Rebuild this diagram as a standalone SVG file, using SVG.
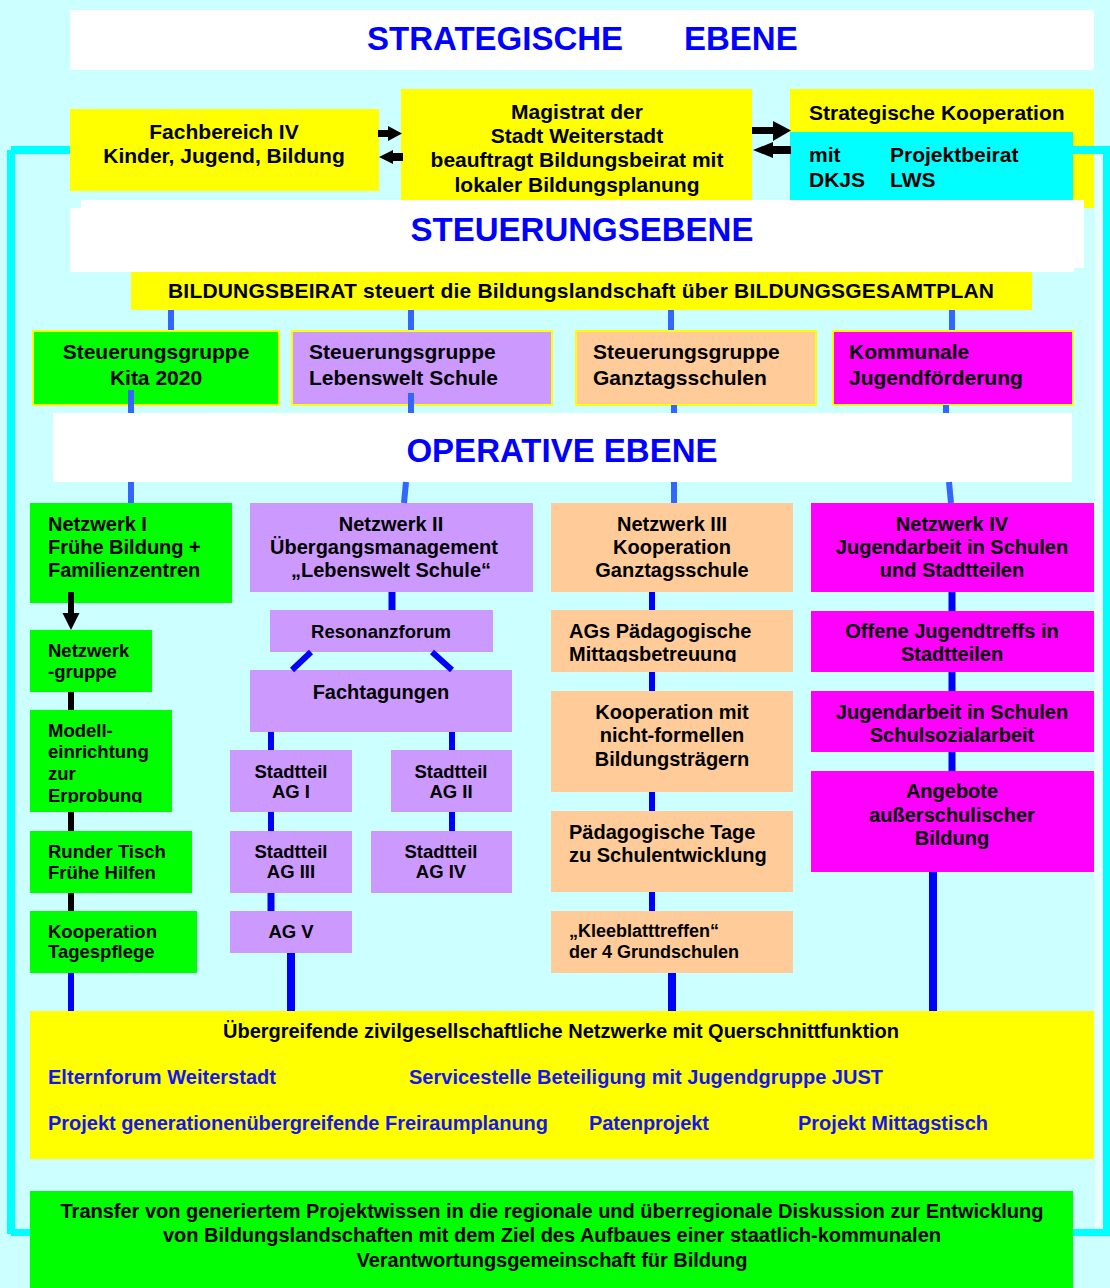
<svg xmlns="http://www.w3.org/2000/svg" width="1110" height="1288" viewBox="0 0 1110 1288">
<style>
text{font-family:"Liberation Sans",Arial,Helvetica,sans-serif;font-weight:bold;fill:#000}
.h{font-size:33px;fill:#0000FF}
.s21{font-size:21px}
.s20{font-size:20px}
.s185{font-size:18.5px}
.s18{font-size:18px}
.c{text-anchor:middle}
.bl{fill:#1414F0}
.y{fill:#FFFF00}
.g{fill:#00FF00}
.p{fill:#CC99FF}
.o{fill:#FFCC99}
.m{fill:#FF00FF}
.w{fill:#FFFFFF}
.sb{stroke:#FFFF00;stroke-width:2}
.cu{stroke:#3366FF;stroke-width:6;fill:none}
.cl{stroke:#0000FF;stroke-width:6;fill:none}
.ck{stroke:#000;stroke-width:6;fill:none}
.fr{fill:#00FFFF}
</style>
<defs>
<clipPath id="clipModell"><rect x="30" y="710" width="142" height="93"/></clipPath>
<clipPath id="clipAGs"><rect x="551" y="610" width="242" height="52"/></clipPath>
</defs>
<rect x="0" y="0" width="1110" height="1288" fill="#CCFFFF"/>

<g id="title-strategisch">
<rect class="w" x="70" y="10" width="1024" height="60"/>
<text class="h" x="367" y="50">STRATEGISCHE</text>
<text class="h" x="684" y="50">EBENE</text>
</g>

<g id="fachbereich">
<rect class="y" x="70" y="109" width="309" height="82"/>
<text class="s21 c" x="224" y="139">Fachbereich IV</text>
<text class="s21 c" x="224" y="163">Kinder, Jugend, Bildung</text>
</g>

<g id="magistrat">
<rect class="y" x="401" y="89" width="351" height="111"/>
<text class="s21 c" x="577" y="119">Magistrat der</text>
<text class="s21 c" x="577" y="143">Stadt Weiterstadt</text>
<text class="s21 c" x="577" y="167">beauftragt Bildungsbeirat mit</text>
<text class="s21 c" x="577" y="192">lokaler Bildungsplanung</text>
</g>

<g id="kooperation">
<rect class="y" x="790" y="89" width="304" height="119"/>
<rect class="fr" x="790" y="132" width="283" height="68"/>
<text class="s21" x="809" y="120">Strategische Kooperation</text>
<text class="s21" x="809" y="162">mit</text>
<text class="s21" x="890" y="162">Projektbeirat</text>
<text class="s21" x="809" y="187">DKJS</text>
<text class="s21" x="890" y="187">LWS</text>
</g>

<g id="title-steuerung">
<rect class="w" x="81" y="200" width="1003" height="68"/>
<rect class="w" x="70" y="208" width="1004" height="64"/>
<text class="h c" x="582" y="241">STEUERUNGSEBENE</text>
</g>

<g id="bildungsbeirat">
<rect class="y" x="131" y="272" width="901" height="38"/>
<text class="s21 c" x="581" y="298" textLength="826">BILDUNGSBEIRAT steuert die Bildungslandschaft über BILDUNGSGESAMTPLAN</text>
</g>

<g id="sg-kita">
<rect class="g sb" x="33" y="331" width="246" height="74"/>
<text class="s21 c" x="156" y="359">Steuerungsgruppe</text>
<text class="s21 c" x="156" y="385">Kita 2020</text>
</g>
<g id="sg-lebenswelt">
<rect class="p sb" x="292" y="331" width="260" height="74"/>
<text class="s21" x="309" y="359">Steuerungsgruppe</text>
<text class="s21" x="309" y="385">Lebenswelt Schule</text>
</g>
<g id="sg-ganztag">
<rect class="o sb" x="576" y="331" width="240" height="74"/>
<text class="s21" x="593" y="359">Steuerungsgruppe</text>
<text class="s21" x="593" y="385">Ganztagsschulen</text>
</g>
<g id="sg-jugend">
<rect class="m sb" x="833" y="331" width="240" height="74"/>
<text class="s21" x="849" y="359">Kommunale</text>
<text class="s21" x="849" y="385">Jugendförderung</text>
</g>

<g id="title-operativ">
<rect class="w" x="53" y="413" width="1019" height="69"/>
<text class="h c" x="562" y="462">OPERATIVE EBENE</text>
</g>

<g id="nw1">
<rect class="g" x="30" y="503" width="202" height="100"/>
<text class="s20" x="48" y="531">Netzwerk I</text>
<text class="s20" x="48" y="554">Frühe Bildung +</text>
<text class="s20" x="48" y="577">Familienzentren</text>
</g>
<g id="nw-gruppe">
<rect class="g" x="30" y="630" width="122" height="62"/>
<text class="s185" x="48" y="657">Netzwerk</text>
<text class="s185" x="48" y="678">-gruppe</text>
</g>
<g id="modell">
<rect class="g" x="30" y="710" width="142" height="102"/>
<g clip-path="url(#clipModell)">
<text class="s185" x="48" y="737">Modell-</text>
<text class="s185" x="48" y="758">einrichtung</text>
<text class="s185" x="48" y="780">zur</text>
<text class="s185" x="48" y="802">Erprobung</text>
</g>
</g>
<g id="runder-tisch">
<rect class="g" x="30" y="831" width="162" height="62"/>
<text class="s185" x="48" y="858">Runder Tisch</text>
<text class="s185" x="48" y="879">Frühe Hilfen</text>
</g>
<g id="tagespflege">
<rect class="g" x="30" y="911" width="167" height="62"/>
<text class="s185" x="48" y="938">Kooperation</text>
<text class="s185" x="48" y="958">Tagespflege</text>
</g>

<g id="nw2">
<rect class="p" x="250" y="503" width="283" height="89"/>
<text class="s20 c" x="391" y="531">Netzwerk II</text>
<text class="s20 c" x="384" y="554">Übergangsmanagement</text>
<text class="s20 c" x="391" y="577">„Lebenswelt Schule“</text>
</g>
<g id="resonanzforum">
<rect class="p" x="270" y="610" width="223" height="42"/>
<text class="s185 c" x="381" y="638">Resonanzforum</text>
</g>
<g id="fachtagungen">
<rect class="p" x="250" y="670" width="262" height="62"/>
<text class="s20 c" x="381" y="699">Fachtagungen</text>
</g>
<g id="ag1">
<rect class="p" x="230" y="750" width="122" height="62"/>
<text class="s185 c" x="291" y="778">Stadtteil</text>
<text class="s185 c" x="291" y="798">AG I</text>
</g>
<g id="ag2">
<rect class="p" x="391" y="750" width="121" height="62"/>
<text class="s185 c" x="451" y="778">Stadtteil</text>
<text class="s185 c" x="451" y="798">AG II</text>
</g>
<g id="ag3">
<rect class="p" x="230" y="831" width="122" height="62"/>
<text class="s185 c" x="291" y="858">Stadtteil</text>
<text class="s185 c" x="291" y="878">AG III</text>
</g>
<g id="ag4">
<rect class="p" x="371" y="831" width="141" height="62"/>
<text class="s185 c" x="441" y="858">Stadtteil</text>
<text class="s185 c" x="441" y="878">AG IV</text>
</g>
<g id="ag5">
<rect class="p" x="230" y="911" width="122" height="42"/>
<text class="s185 c" x="291" y="938">AG V</text>
</g>

<g id="nw3">
<rect class="o" x="551" y="503" width="242" height="89"/>
<text class="s20 c" x="672" y="531">Netzwerk III</text>
<text class="s20 c" x="672" y="554">Kooperation</text>
<text class="s20 c" x="672" y="577">Ganztagsschule</text>
</g>
<g id="ags">
<rect class="o" x="551" y="610" width="242" height="62"/>
<g clip-path="url(#clipAGs)">
<text class="s20" x="569" y="638">AGs Pädagogische</text>
<text class="s20" x="569" y="661">Mittagsbetreuung</text>
</g>
</g>
<g id="koop-nicht-formell">
<rect class="o" x="551" y="691" width="242" height="101"/>
<text class="s20 c" x="672" y="719">Kooperation mit</text>
<text class="s20 c" x="672" y="742">nicht-formellen</text>
<text class="s20 c" x="672" y="766">Bildungsträgern</text>
</g>
<g id="paed-tage">
<rect class="o" x="551" y="811" width="242" height="81"/>
<text class="s20" x="569" y="839">Pädagogische Tage</text>
<text class="s20" x="569" y="862">zu Schulentwicklung</text>
</g>
<g id="kleeblatt">
<rect class="o" x="551" y="911" width="242" height="62"/>
<text class="s18" x="569" y="937">„Kleeblatttreffen“</text>
<text class="s18" x="569" y="958">der 4 Grundschulen</text>
</g>

<g id="nw4">
<rect class="m" x="811" y="503" width="283" height="89"/>
<text class="s20 c" x="952" y="531">Netzwerk IV</text>
<text class="s20 c" x="952" y="554">Jugendarbeit in Schulen</text>
<text class="s20 c" x="952" y="577">und Stadtteilen</text>
</g>
<g id="jugendtreffs">
<rect class="m" x="811" y="611" width="283" height="61"/>
<text class="s20 c" x="952" y="638">Offene Jugendtreffs in</text>
<text class="s20 c" x="952" y="661">Stadtteilen</text>
</g>
<g id="schulsozialarbeit">
<rect class="m" x="811" y="691" width="283" height="61"/>
<text class="s20 c" x="952" y="719">Jugendarbeit in Schulen</text>
<text class="s20 c" x="952" y="742">Schulsozialarbeit</text>
</g>
<g id="angebote">
<rect class="m" x="811" y="771" width="283" height="101"/>
<text class="s20 c" x="952" y="798">Angebote</text>
<text class="s20 c" x="952" y="822">außerschulischer</text>
<text class="s20 c" x="952" y="845">Bildung</text>
</g>

<g id="netzwerke-querschnitt">
<rect class="y" x="30" y="1011" width="1064" height="148"/>
<text class="s20 c" x="561" y="1038" textLength="676">Übergreifende zivilgesellschaftliche Netzwerke mit Querschnittfunktion</text>
<text class="s20 bl" x="48" y="1084" textLength="228">Elternforum Weiterstadt</text>
<text class="s20 bl" x="409" y="1084" textLength="474">Servicestelle Beteiligung mit Jugendgruppe JUST</text>
<text class="s20 bl" x="48" y="1130" textLength="500">Projekt generationenübergreifende Freiraumplanung</text>
<text class="s20 bl" x="589" y="1130" textLength="120">Patenprojekt</text>
<text class="s20 bl" x="798" y="1130" textLength="190">Projekt Mittagstisch</text>
</g>

<g id="transfer">
<rect class="g" x="30" y="1191" width="1043" height="97"/>
<text class="s20 c" x="552" y="1218" textLength="983">Transfer von generiertem Projektwissen in die regionale und überregionale Diskussion zur Entwicklung</text>
<text class="s20 c" x="552" y="1242" textLength="778">von Bildungslandschaften mit dem Ziel des Aufbaues einer staatlich-kommunalen</text>
<text class="s20 c" x="552" y="1267" textLength="391">Verantwortungsgemeinschaft für Bildung</text>
</g>

<g id="connectors">
<!-- top arrows -->
<rect x="378" y="130" width="11" height="7" fill="#000"/>
<polygon points="388,126 402,133.5 388,141" fill="#000"/>
<polygon points="393,150 379,157 393,164" fill="#000"/>
<rect x="392" y="153" width="11" height="8" fill="#000"/>
<rect x="752" y="127" width="22" height="7" fill="#000"/>
<polygon points="773,121 791,130.5 773,141" fill="#000"/>
<polygon points="773,142 753,150 773,158" fill="#000"/>
<rect x="772" y="146" width="19" height="8" fill="#000"/>
<!-- frame -->
<rect class="fr" x="11" y="146" width="59" height="8"/>
<rect class="fr" x="7" y="150" width="8" height="1084"/>
<rect class="fr" x="11" y="1229" width="19" height="7"/>
<rect class="fr" x="1073" y="146" width="37" height="8"/>
<rect x="1095" y="154" width="8" height="1075" fill="#E6FFFF"/>
<rect class="fr" x="1103" y="154" width="7" height="1082"/>
<rect class="fr" x="1073" y="1229" width="37" height="7"/>
<!-- upper -->
<line class="cu" x1="171" y1="310" x2="171" y2="330"/>
<line class="cu" x1="411" y1="310" x2="411" y2="330"/>
<line class="cu" x1="671" y1="310" x2="671" y2="330"/>
<line class="cu" x1="952" y1="310" x2="952" y2="330"/>
<line class="cu" x1="131" y1="390" x2="131" y2="413"/>
<line class="cu" x1="411" y1="393" x2="411" y2="413"/>
<line class="cu" x1="674" y1="405" x2="674" y2="413"/>
<line class="cu" x1="946" y1="405" x2="946" y2="413"/>
<line class="cu" x1="131" y1="482" x2="131" y2="503"/>
<line class="cu" x1="406" y1="482" x2="404" y2="503"/>
<line class="cu" x1="674" y1="482" x2="674" y2="503"/>
<line class="cu" x1="949" y1="482" x2="951" y2="503"/>
<!-- column 1 -->
<line class="ck" x1="71" y1="592" x2="71" y2="614"/>
<polygon points="62.5,613 79.5,613 71,630" fill="#000"/>
<line class="ck" x1="71" y1="692" x2="71" y2="710"/>
<line class="ck" x1="71" y1="812" x2="71" y2="831"/>
<line class="ck" x1="71" y1="893" x2="71" y2="911"/>
<line class="cl" x1="71" y1="973" x2="71" y2="1011"/>
<!-- column 2 -->
<line class="cl" x1="392" y1="592" x2="392" y2="610" style="stroke-width:7"/>
<line class="cl" x1="311" y1="652" x2="292" y2="670"/>
<line class="cl" x1="432" y1="652" x2="452" y2="670"/>
<line class="cl" x1="271" y1="732" x2="271" y2="750"/>
<line class="cl" x1="452" y1="732" x2="452" y2="750"/>
<line class="cl" x1="271" y1="812" x2="271" y2="831"/>
<line class="cl" x1="452" y1="812" x2="452" y2="831"/>
<line class="cl" x1="271" y1="893" x2="271" y2="911" style="stroke-width:7"/>
<line class="cl" x1="291" y1="953" x2="291" y2="1011" style="stroke-width:8"/>
<!-- column 3 -->
<line class="cl" x1="652" y1="592" x2="652" y2="610"/>
<line class="cl" x1="652" y1="672" x2="652" y2="691"/>
<line class="cl" x1="652" y1="792" x2="652" y2="811"/>
<line class="cl" x1="652" y1="892" x2="652" y2="911"/>
<line class="cl" x1="672" y1="973" x2="672" y2="1011" style="stroke-width:8"/>
<!-- column 4 -->
<line class="cl" x1="952" y1="592" x2="952" y2="611" style="stroke-width:7"/>
<line class="cl" x1="952" y1="672" x2="952" y2="691" style="stroke-width:7"/>
<line class="cl" x1="952" y1="752" x2="952" y2="771" style="stroke-width:7"/>
<line class="cl" x1="933" y1="872" x2="933" y2="1011" style="stroke-width:8"/>
</g>
</svg>
